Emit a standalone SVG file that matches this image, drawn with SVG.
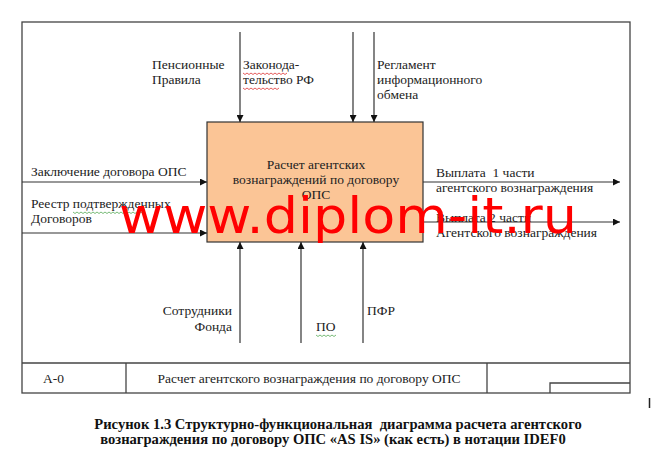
<svg xmlns="http://www.w3.org/2000/svg" width="663" height="460" viewBox="0 0 663 460">
<style>
.t{font-family:"Liberation Serif","Times New Roman",serif;font-size:13.5px;fill:#222;white-space:pre}
.c{font-family:"Liberation Serif","Times New Roman",serif;font-size:14.6px;font-weight:bold;fill:#111;white-space:pre}
.ln{stroke:#333;stroke-width:1.2;fill:none}
.fr{stroke:#444;stroke-width:1.3;fill:none}
.sq{stroke-width:0.8;fill:none}
</style>
<defs>
<marker id="ah" viewBox="0 0 8 8" refX="8" refY="4" markerWidth="7" markerHeight="7" markerUnits="userSpaceOnUse" orient="auto">
<path d="M0,0 L8,4 L0,8 Z" fill="#111"/>
</marker>
</defs>
<rect width="663" height="460" fill="#fff"/>
<g id="frame">
<rect class="fr" x="22" y="22" width="608" height="371"/>
<line class="fr" x1="22" y1="363" x2="630" y2="363"/>
<line class="fr" x1="126" y1="363" x2="126" y2="393"/>
<line class="fr" x1="487" y1="363" x2="487" y2="393"/>
<polyline class="fr" points="550,393 550,383 630,383"/>
<text class="t" x="43" y="383">А-0</text>
<text class="t" x="309" y="383" text-anchor="middle" font-size="13.3">Расчет агентского вознаграждения по договору ОПС</text>
</g>
<g id="A0">
<rect x="207" y="122" width="216" height="120" fill="#fbc596" stroke="#333" stroke-width="1.2"/>
<text class="t" x="316" y="169" text-anchor="middle" font-size="14">Расчет агентских</text>
<text class="t" x="316" y="184" text-anchor="middle" font-size="14">вознаграждений по договору</text>
<text class="t" x="316" y="199" text-anchor="middle" font-size="14">ОПС</text>
</g>
<g id="connectors">
<line class="ln" x1="240" y1="32" x2="240" y2="122" marker-end="url(#ah)"/>
<line class="ln" x1="353" y1="32" x2="353" y2="122" marker-end="url(#ah)"/>
<line class="ln" x1="374" y1="32" x2="374" y2="122" marker-end="url(#ah)"/>
<line class="ln" x1="22" y1="182" x2="207" y2="182" marker-end="url(#ah)"/>
<line class="ln" x1="22" y1="233" x2="207" y2="233" marker-end="url(#ah)"/>
<line class="ln" x1="423" y1="182" x2="620" y2="182" marker-end="url(#ah)"/>
<line class="ln" x1="423" y1="222" x2="620" y2="222" marker-end="url(#ah)"/>
<line class="ln" x1="240" y1="343" x2="240" y2="242" marker-end="url(#ah)"/>
<line class="ln" x1="301" y1="343" x2="301" y2="242" marker-end="url(#ah)"/>
<line class="ln" x1="363" y1="343" x2="363" y2="242" marker-end="url(#ah)"/>
</g>
<g id="labels">
<text class="t" x="152" y="69">Пенсионные</text>
<text class="t" x="152" y="84">Правила</text>
<text class="t" x="243" y="69">Законода-</text>
<text class="t" x="243" y="84">тельство РФ</text>
<text class="t" x="377" y="69">Регламент</text>
<text class="t" x="377" y="84">информационного</text>
<text class="t" x="377" y="99">обмена</text>
<text class="t" x="31" y="176">Заключение договора ОПС</text>
<text class="t" x="31" y="208">Реестр подтвержденных</text>
<text class="t" x="31" y="223">Договоров</text>
<text class="t" x="436" y="177">Выплата  1 части</text>
<text class="t" x="436" y="192">агентского вознаграждения</text>
<text class="t" x="436" y="222">Выплата 2 части</text>
<text class="t" x="436" y="237">Агентского вознаграждения</text>
<text class="t" x="232" y="315" text-anchor="end">Сотрудники</text>
<text class="t" x="232" y="331" text-anchor="end">Фонда</text>
<text class="t" x="316" y="331">ПО</text>
<text class="t" x="367" y="315">ПФР</text>
<path class="sq" stroke="#d33" d="M243,73 l2,1.5 l2,-1.5 l2,1.5 l2,-1.5 l2,1.5 l2,-1.5 l2,1.5 l2,-1.5 l2,1.5 l2,-1.5 l2,1.5 l2,-1.5 l2,1.5 l2,-1.5 l2,1.5 l2,-1.5 l2,1.5 l2,-1.5 l2,1.5 l2,-1.5 l2,1.5 l2,-1.5"/>
<path class="sq" stroke="#d33" d="M243,88 l2,1.5 l2,-1.5 l2,1.5 l2,-1.5 l2,1.5 l2,-1.5 l2,1.5 l2,-1.5 l2,1.5 l2,-1.5 l2,1.5 l2,-1.5 l2,1.5 l2,-1.5 l2,1.5 l2,-1.5 l2,1.5 l2,-1.5"/>
<path class="sq" stroke="#5a5" d="M73,212 l2,1.5 l2,-1.5 l2,1.5 l2,-1.5 l2,1.5 l2,-1.5 l2,1.5 l2,-1.5 l2,1.5 l2,-1.5 l2,1.5 l2,-1.5 l2,1.5 l2,-1.5 l2,1.5 l2,-1.5 l2,1.5 l2,-1.5 l2,1.5 l2,-1.5 l2,1.5 l2,-1.5 l2,1.5 l2,-1.5 l2,1.5 l2,-1.5 l2,1.5 l2,-1.5 l2,1.5 l2,-1.5 l2,1.5 l2,-1.5 l2,1.5 l2,-1.5 l2,1.5 l2,-1.5"/>
<path class="sq" stroke="#5a5" d="M316,335 l2,1.5 l2,-1.5 l2,1.5 l2,-1.5 l2,1.5 l2,-1.5 l2,1.5 l2,-1.5 l2,1.5 l2,-1.5"/>
</g>
<g id="watermark">
<text x="119" y="233" font-family="DejaVu Sans, Verdana, sans-serif" font-size="49" fill="#f00" textLength="458" lengthAdjust="spacingAndGlyphs">www.diplom-it.ru</text>
</g>
<g id="caption">
<text class="c" x="338" y="429" text-anchor="middle">Рисунок 1.3 Структурно-функциональная  диаграмма расчета агентского</text>
<text class="c" x="333" y="444" text-anchor="middle">вознаграждения по договору ОПС «AS IS» (как есть) в нотации IDEF0</text>
<line x1="649.5" y1="398" x2="649.5" y2="408" stroke="#222" stroke-width="1.5"/>
</g>
</svg>
